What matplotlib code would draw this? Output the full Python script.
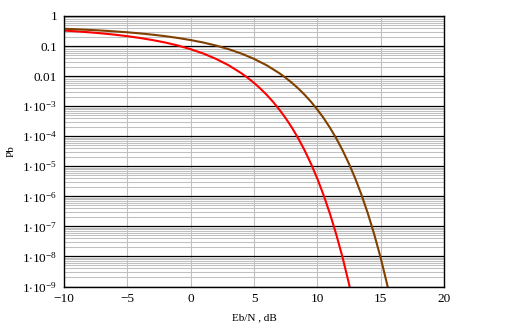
import matplotlib
matplotlib.use("Agg")
import matplotlib.pyplot as plt
from matplotlib.ticker import FixedLocator, LogLocator, NullFormatter

plt.rcParams['font.family'] = ['Liberation Serif', 'DejaVu Serif']
plt.rcParams['mathtext.fontset'] = 'custom'
plt.rcParams['mathtext.rm'] = 'Liberation Serif'
plt.rcParams['mathtext.it'] = 'Liberation Serif'

# Eb/N0 in dB and bit error probability
snr_red = [-10, -9, -8, -7, -6, -5, -4, -3, -2, -1, 0, 1, 2, 3, 4, 4.5,
           5, 5.5, 6, 6.5, 7, 7.5, 8, 8.5, 9, 9.5, 10, 10.5, 11, 11.5,
           12, 12.5, 13]
pb_red = [0.327, 0.308, 0.287, 0.264, 0.239, 0.213, 0.186, 0.158, 0.131,
          0.104, 0.0786, 0.0563, 0.0375, 0.0229, 0.0125, 0.0088,
          5.95e-3, 3.86e-3, 2.39e-3, 1.40e-3, 7.7e-4, 4.0e-4, 1.91e-4,
          8.4e-5, 3.36e-5, 1.21e-5, 3.87e-6, 1.08e-6, 2.6e-7, 5.3e-8,
          9.0e-9, 1.23e-9, 1.3e-10]

snr_brown = [-10, -9, -8, -7, -6, -5, -4, -3, -2, -1, 0, 1, 2, 3, 4, 5,
             6, 7, 7.5, 8, 8.5, 9, 9.5, 10, 10.5, 11, 11.5, 12, 12.5, 13,
             13.5, 14, 14.5, 15, 15.5, 16]
pb_brown = [0.376, 0.361, 0.345, 0.327, 0.308, 0.287, 0.264, 0.239, 0.213,
            0.186, 0.158, 0.131, 0.104, 0.0786, 0.0563, 0.0375, 0.0229,
            0.0125, 0.0088, 5.95e-3, 3.86e-3, 2.39e-3, 1.40e-3, 7.7e-4,
            4.0e-4, 1.91e-4, 8.4e-5, 3.36e-5, 1.21e-5, 3.87e-6, 1.08e-6,
            2.6e-7, 5.3e-8, 9.0e-9, 1.23e-9, 1.3e-10]

y_ticks = [1, 0.1, 0.01, 1e-3, 1e-4, 1e-5, 1e-6, 1e-7, 1e-8, 1e-9]
y_labels = ['1', '0.1', '0.01'] + [r'$1{\cdot}10^{-%d}$' % k for k in range(3, 10)]
x_ticks = [-10, -5, 0, 5, 10, 15, 20]

fig = plt.figure(figsize=(5.22, 3.32), dpi=100)
ax = fig.add_axes([64 / 522, 1 - 286.5 / 332, 380 / 522, 270.5 / 332])

ax.set_yscale('log')
ax.set_xlim(-10, 20)
ax.set_ylim(1e-9, 1)

ax.yaxis.set_major_locator(FixedLocator(y_ticks))
ax.set_yticklabels(y_labels)
ax.yaxis.set_minor_locator(LogLocator(base=10, subs=range(2, 10), numticks=20))
ax.yaxis.set_minor_formatter(NullFormatter())
ax.set_xticks(x_ticks)

# grid: grey verticals, grey minor horizontals, black decade lines
ax.grid(True, which='minor', axis='y', color='#c0c0c0', lw=0.75)
ax.grid(True, which='major', axis='x', color='#c0c0c0', lw=0.75)
ax.grid(True, which='major', axis='y', color='black', lw=0.9)
ax.set_axisbelow(True)

ax.plot(snr_red, pb_red, color='#ff0000', lw=1.5)
ax.plot(snr_brown, pb_brown, color='#804000', lw=1.5)

ax.tick_params(which='both', length=0, labelsize=9.5, pad=5)
for s in ax.spines.values():
    s.set_linewidth(1.0)
    s.set_color('black')

ax.set_xlabel('Eb/N , dB', fontsize=8, labelpad=6)
ax.set_ylabel('Pb', fontsize=8, labelpad=4)

fig.savefig('out.png', dpi=100)
